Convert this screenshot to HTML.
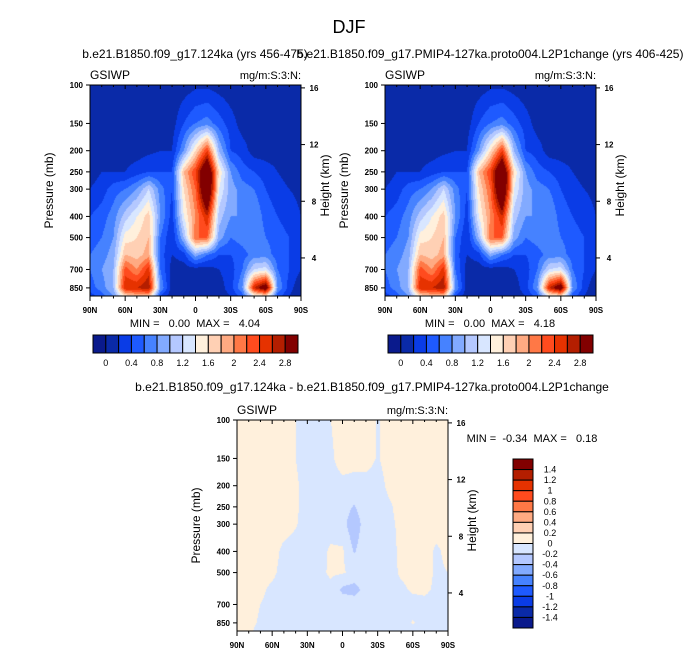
<!DOCTYPE html>
<html><head><meta charset="utf-8"><style>
body{margin:0;background:#fff;width:699px;height:654px;overflow:hidden;position:relative;font-family:"Liberation Sans",sans-serif}
canvas{position:absolute}
svg{position:absolute;left:0;top:0}
text{font-family:"Liberation Sans",sans-serif;white-space:pre}
</style></head><body>
<canvas id="c1" width="211" height="211" style="left:90px;top:85px"></canvas>
<canvas id="c2" width="211" height="211" style="left:385px;top:85px"></canvas>
<canvas id="c3" width="211" height="211" style="left:237px;top:420px"></canvas>
<svg id="ov" width="699" height="654"></svg>
<script>
const lats=[90,80,70,60,50,40,30,20,10,0,-10,-20,-30,-40,-50,-60,-70,-80,-90];
const levels=[100,150,200,250,300,400,500,600,700,850,925];
const iwpA=[
[.05,.05,.05,.05,.05,.05,.05,.05,.08,.15,.15,.1,.05,.05,.05,.05,.05,.05,.05],
[.1,.1,.1,.1,.1,.1,.1,.1,.4,.6,.7,.5,.3,.1,.1,.1,.1,.1,.1],
[.1,.1,.1,.1,.1,.15,.2,.2,.8,1.6,2.4,1.0,.4,.3,.1,.1,.1,.1,.1],
[.1,.2,.2,.2,.3,.4,.4,.4,1.8,2.4,3.5,1.6,.8,.5,.4,.3,.2,.1,.1],
[.2,.3,.5,.6,.8,1.2,.7,.4,1.6,2.2,3.6,1.4,.9,.7,.6,.4,.3,.2,.15],
[.4,.5,.7,1.1,1.4,1.7,.8,.3,1.4,2.0,2.6,1.1,.8,.8,.8,.5,.4,.3,.2],
[.5,.6,.8,1.5,1.6,1.8,.6,.2,1.0,2.2,2.2,.9,.6,.7,.8,.6,.5,.4,.3],
[.6,.7,.9,1.8,1.7,1.9,.5,.2,.3,.9,.6,.4,.4,.5,.7,.7,.5,.4,.3],
[.6,.8,1.0,2.3,2.0,2.5,.6,.1,.1,.1,.1,.2,.3,.6,1.2,1.3,.6,.4,.2],
[.5,.7,1.0,2.6,2.6,2.8,.8,.1,.05,.05,.05,.1,.3,.8,2.6,3.2,.8,.3,.0],
[.3,.5,.8,1.6,1.8,1.8,.4,.05,.05,.05,.05,.1,.2,.5,1.4,1.6,.5,.2,.0]];
const iwpB=iwpA.map(r=>r.slice());
const iwpDiff=[
[.05,.05,.05,.05,.05,0,-.05,-.05,0,.05,.05,.05,-.01,.05,.05,.05,.05,.05,.05],
[.05,.05,.05,.05,.05,0,-.05,-.05,-.02,.05,.05,.05,-.01,.05,.05,.05,.05,.05,.05],
[.05,.05,.05,.05,.05,.02,-.05,-.05,-.05,-.03,-.05,-.05,-.05,.03,.05,.05,.05,.05,.05],
[.05,.05,.05,.05,.05,.02,-.05,-.05,-.05,-.1,-.22,-.05,-.05,-.02,.05,.05,.05,.05,.05],
[.05,.05,.05,.05,.05,.01,-.05,-.05,-.05,-.12,-.35,-.08,-.05,-.03,.03,.05,.05,.05,.05],
[.05,.05,.05,.05,-.03,-.05,-.05,-.05,.02,.03,-.22,-.05,-.05,-.05,.03,.05,.05,-.02,.03],
[.05,.05,.05,.03,-.05,-.05,-.05,-.05,.03,.02,-.05,-.05,-.05,-.05,.02,.05,.05,-.02,0],
[.05,.05,.03,-.03,-.05,-.05,-.05,-.05,-.05,-.25,-.3,-.1,-.05,-.05,-.03,.02,.02,-.02,0],
[.05,.05,0,-.05,-.05,-.05,-.05,-.05,-.05,-.05,-.05,-.05,-.05,-.05,-.05,-.05,-.03,-.03,0],
[.05,.04,-.02,-.05,-.05,-.05,-.05,-.05,-.05,-.05,-.05,-.05,-.05,-.05,-.05,.01,-.05,-.03,0],
[.05,.03,-.05,-.05,-.05,-.05,-.05,-.05,-.05,-.05,-.05,-.05,-.05,-.05,-.05,-.05,-.05,-.03,0]];
const colors=["#0a1a8c","#0a2aa8","#0a3ce6","#1e5aff","#4682ff","#82aaff","#b4c8ff","#d8e6ff","#fff0dc","#ffd0b4","#ffaa82","#ff7846","#ff4b1e","#e63200","#b41e00","#820000"];
const topBounds=[0,.2,.4,.6,.8,1,1.2,1.4,1.6,1.8,2,2.2,2.4,2.6,2.8];
const topLabels=["0","0.4","0.8","1.2","1.6","2","2.4","2.8"];
const diffBounds=[-1.4,-1.2,-1,-.8,-.6,-.4,-.2,0,.2,.4,.6,.8,1,1.2,1.4];
const diffLabels=["1.4","1.2","1","0.8","0.6","0.4","0.2","0","-0.2","-0.4","-0.6","-0.8","-1","-1.2","-1.4"];
const pTicks=[100,150,200,250,300,400,500,700,850];
const hTicks=[16,12,8,4];
const latTicks=[90,60,30,0,-30,-60,-90];
const latNames=["90N","60N","30N","0","30S","60S","90S"];
const W=211,H=211,pTop=100,pBot=926;
function yOfP(p){return H*Math.log(p/pTop)/Math.log(pBot/pTop);}
function xOfLat(l){return W*(90-l)/180;}
function yOfH(h){return yOfP(1127*Math.exp(-h/6.69));}
function rgb(h){return [parseInt(h.substr(1,2),16),parseInt(h.substr(3,2),16),parseInt(h.substr(5,2),16)];}
const rgbs=colors.map(rgb);
function sample(grid,x,y){
  const lat=90-180*x/W; const lp=Math.log(pTop)+ (y/H)*Math.log(pBot/pTop);
  let fc=(90-lat)/10; fc=Math.max(0,Math.min(lats.length-1.0001,fc));
  const ll=levels.map(Math.log);
  let r=0; while(r<ll.length-2&&lp>ll[r+1])r++;
  let fr=(lp-ll[r])/(ll[r+1]-ll[r]); fr=Math.max(0,Math.min(1,fr));
  const c=Math.floor(fc), t=fc-c;
  const a=grid[r][c]*(1-t)+grid[r][c+1]*t, b=grid[r+1][c]*(1-t)+grid[r+1][c+1]*t;
  return a*(1-fr)+b*fr;
}
function paint(id,grid,bounds){
  const cv=document.getElementById(id),ctx=cv.getContext('2d'),img=ctx.createImageData(W,H);
  for(let y=0;y<H;y++)for(let x=0;x<W;x++){
    const v=sample(grid,x+.5,y+.5);let k=0;while(k<bounds.length&&v>=bounds[k])k++;
    const c=rgbs[k],i=(y*W+x)*4;img.data[i]=c[0];img.data[i+1]=c[1];img.data[i+2]=c[2];img.data[i+3]=255;}
  ctx.putImageData(img,0,0);
}
paint('c1',iwpA,topBounds);paint('c2',iwpB,topBounds);paint('c3',iwpDiff,diffBounds);
const ov=document.getElementById('ov'),NS="http://www.w3.org/2000/svg";
function el(tag,attrs,txt){const e=document.createElementNS(NS,tag);for(const k in attrs)e.setAttribute(k,attrs[k]);if(txt!==undefined)e.textContent=txt;ov.appendChild(e);return e;}
function txt(x,y,s,size,anchor,name,extra){const e=el('text',Object.assign({x:x,y:y,'font-size':size,'text-anchor':anchor||'middle',fill:'#000'},extra||{}),s);

return e;}
function panel(ox,oy,tag,mm,mmx,mmy){
  const fr=el('rect',{x:ox,y:oy,width:W,height:H,fill:'none',stroke:'#000','stroke-width':1});
  
  
  pTicks.forEach(p=>{const y=oy+yOfP(p);el('line',{x1:ox-4,x2:ox,y1:y,y2:y,stroke:'#000'});
    txt(ox-7,y+3,String(p),8,'end',tag+'-y-tick-label',{'font-weight':'bold'});});
  hTicks.forEach(h=>{const y=oy+yOfH(h);el('line',{x1:ox+W,x2:ox+W+4,y1:y,y2:y,stroke:'#000'});
    txt(ox+W+13,y+3,String(h),8,'middle',tag+'-height-tick-label',{'font-weight':'bold'});});
  latTicks.forEach((l,i)=>{const x=ox+xOfLat(l);el('line',{x1:x,x2:x,y1:oy+H,y2:oy+H+5,stroke:'#000'});el('line',{x1:x,x2:x,y1:oy,y2:oy+4,stroke:'#000'});
    txt(x,oy+H+17,latNames[i],8,'middle',tag+'-x-tick-label',{'font-weight':'bold'});});
  for(let l=80;l>-90;l-=10){if(l%30===0)continue;const x=ox+xOfLat(l);el('line',{x1:x,x2:x,y1:oy+H,y2:oy+H+2.5,stroke:'#000'});el('line',{x1:x,x2:x,y1:oy,y2:oy+2,stroke:'#000'});}
  txt(ox,oy-6,"GSIWP",12,'start',tag+'-variable-label');
  txt(ox+W,oy-6,"mg/m:S:3:N:",11,'end',tag+'-units-label');
  txt(ox-37,oy+H/2,"Pressure (mb)",12,'middle',tag+'-y-axis-title',{transform:`rotate(-90 ${ox-37} ${oy+H/2})`});
  txt(ox+W+28,oy+H/2-5,"Height (km)",12,'middle',tag+'-right-axis-title',{transform:`rotate(-90 ${ox+W+28} ${oy+H/2-5})`});
  txt(mmx,mmy,mm,11,'middle',tag+'-min-max-label');
}
txt(349,33,"DJF",18,'middle','main-title');
txt(195,58,"b.e21.B1850.f09_g17.124ka (yrs 456-475)",12,'middle','left-panel-title');
txt(490,58,"b.e21.B1850.f09_g17.PMIP4-127ka.proto004.L2P1change (yrs 406-425)",12,'middle','right-panel-title');
txt(372,391,"b.e21.B1850.f09_g17.124ka - b.e21.B1850.f09_g17.PMIP4-127ka.proto004.L2P1change",12,'middle','difference-panel-title');
panel(90,85,'left',"MIN =   0.00  MAX =   4.04",195,327);
panel(385,85,'right',"MIN =   0.00  MAX =   4.18",490,327);
panel(237,420,'diff',"MIN =  -0.34  MAX =   0.18",532,442);
function hbar(ox,tag){const bw=205/16;
  colors.forEach((c,i)=>{const r=el('rect',{x:ox+i*bw,y:335,width:bw,height:18,fill:c,stroke:'#000','stroke-width':1});
  
  });
  topLabels.forEach((s,i)=>txt(ox+bw*(1+2*i),366,s,9,'middle',tag+'-colorbar-label'));}
hbar(93,'left');hbar(388,'right');
(function(){const bh=169/16;
  colors.slice().reverse().forEach((c,i)=>{const r=el('rect',{x:513,y:459+i*bh,width:20,height:bh,fill:c,stroke:'#000','stroke-width':1});
  
  });
  diffLabels.forEach((s,i)=>txt(550,459+bh*(i+1)+3,s,9,'middle','diff-colorbar-label'));})();
</script>
</body></html>
